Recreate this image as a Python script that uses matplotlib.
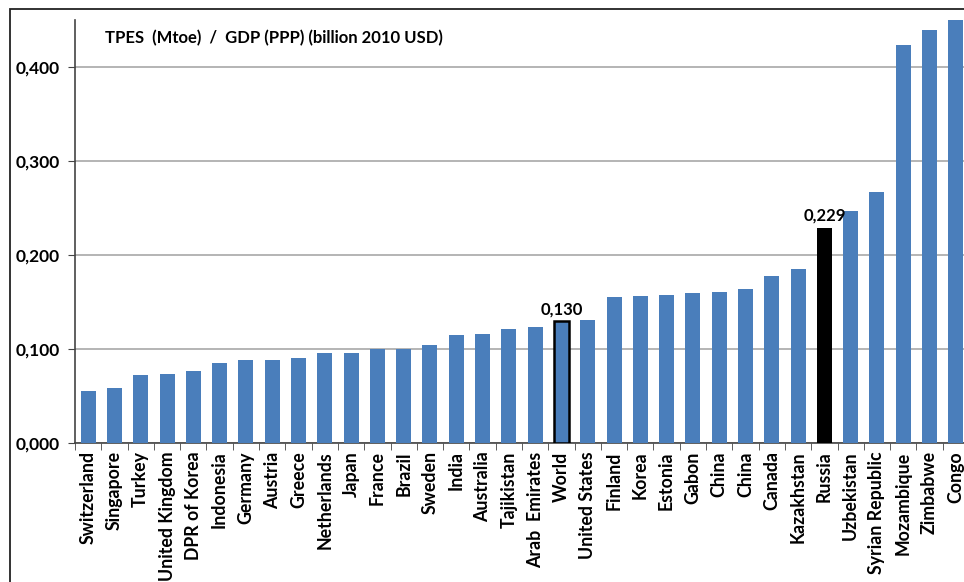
import numpy as np
import matplotlib
matplotlib.use('Agg')
import matplotlib.pyplot as plt
from matplotlib.patches import Rectangle

countries = ['Switzerland', 'Singapore', 'Turkey', 'United Kingdom', 'DPR of Korea',
             'Indonesia', 'Germany', 'Austria', 'Greece', 'Netherlands', 'Japan',
             'France', 'Brazil', 'Sweden', 'India', 'Australia', 'Tajikistan',
             'Arab  Emirates', 'World', 'United States', 'Finland', 'Korea', 'Estonia',
             'Gabon', 'China', 'China', 'Canada', 'Kazakhstan', 'Russia', 'Uzbekistan',
             'Syrian Republic', 'Mozambique', 'Zimbabwe', 'Congo']
values = [0.055, 0.058, 0.072, 0.073, 0.077, 0.085, 0.088, 0.088, 0.090, 0.096,
          0.096, 0.100, 0.100, 0.104, 0.115, 0.116, 0.121, 0.123, 0.130, 0.131,
          0.155, 0.156, 0.157, 0.160, 0.161, 0.164, 0.178, 0.185, 0.229, 0.247,
          0.267, 0.423, 0.439, 0.452]
yticks = [0.0, 0.1, 0.2, 0.3, 0.4]
title = 'TPES  (Mtoe)  /  GDP (PPP) (billion 2010 USD)'

plt.rcParams['font.family'] = ['Lato', 'DejaVu Sans']
plt.rcParams['font.weight'] = 'bold'

blue = '#4a7ebb'
fig = plt.figure(figsize=(9.64, 5.82), dpi=100)
# frame around the whole chart (runs off the right/bottom edge like the scan)
fig.patches.append(Rectangle((10 / 964, -0.05), 1.2, 1 - 9 / 582 + 0.05,
                             transform=fig.transFigure, fill=False,
                             edgecolor='#222222', lw=1.3, zorder=0))

ax = fig.add_axes([75 / 964, 139 / 582, 894 / 964, 423 / 582])
x = np.arange(len(countries))
colors = [blue] * len(countries)
edges = [blue] * len(countries)
lws = [0] * len(countries)
iw = countries.index('World')
ir = countries.index('Russia')
colors[ir] = 'black'
edges[iw] = 'black'
lws[iw] = 1.8
ax.bar(x, values, width=0.57, color=colors, edgecolor=edges, linewidth=lws, zorder=3)

for i in (iw, ir):
    ax.text(x[i], values[i] + 0.004, ('%.3f' % values[i]).replace('.', ','),
            ha='center', va='bottom', fontsize=12, fontweight='bold', zorder=4)

ax.set_xlim(-0.5, len(countries) - 0.5)
ax.set_ylim(0, 0.45)
ax.set_yticks(yticks)
ax.set_yticklabels([('%.3f' % v).replace('.', ',') for v in yticks],
                   fontsize=12.5, fontweight='bold')
ax.set_xticks(x)
ax.set_xticklabels(countries, rotation=90, fontsize=12.8, fontweight='bold')
ax.set_xticks(np.arange(-0.5, len(countries), 1), minor=True)
ax.tick_params(axis='x', which='major', length=0, pad=6)
ax.tick_params(axis='x', which='minor', length=5, direction='out', color='#444444')
ax.tick_params(axis='y', length=5, direction='out', color='#444444', pad=6)

ax.yaxis.grid(True, color='#a8a8a8', lw=1.2, zorder=0)
for s in ('top', 'right'):
    ax.spines[s].set_visible(False)
for s in ('left', 'bottom'):
    ax.spines[s].set_color('#444444')
    ax.spines[s].set_linewidth(1.2)

fig.text(105 / 964, 1 - 38 / 582, title, fontsize=12, fontweight='bold', va='center')

fig.savefig('out.png', dpi=100)
